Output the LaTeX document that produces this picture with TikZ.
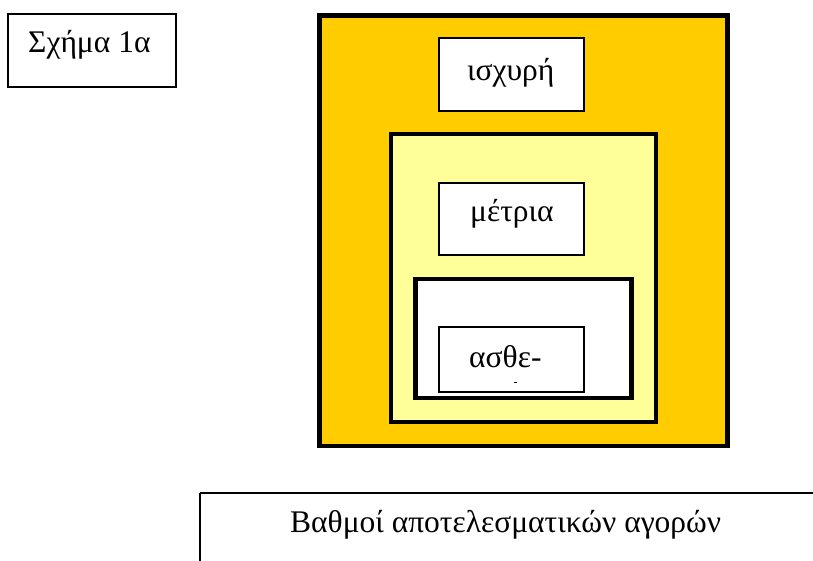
\documentclass[tikz,border=0pt]{standalone}
\usepackage{fontspec}
\setmainfont{Liberation Serif}
\definecolor{strongfill}{HTML}{FFCC00}
\definecolor{midfill}{HTML}{FFFF99}
\begin{document}
\begin{tikzpicture}[x=1pt,y=-1pt,
  label box/.style={draw=black, line width=1.5pt, fill=white},
  frame thick/.style={draw=black, line width=4.5pt},
  txt/.style={font=\fontsize{31.5}{36}\selectfont, inner sep=0pt, anchor=base west}]
\useasboundingbox (0,0) rectangle (813,561);
% caption box
\draw[label box] (8,14) rectangle (176,87);
\node[txt] (cap) at (28,53) {Σχήμα 1α};
% nested market-efficiency frames
\draw[frame thick, fill=strongfill] (319.5,15.5) rectangle (727.5,446);
\draw[label box] (439,38) rectangle (584,111);
\node[txt] (strong) at (467,81) {ισχυρή};
\draw[frame thick, fill=midfill] (391,134) rectangle (656,422);
\draw[label box] (439,183) rectangle (584,255);
\node[txt] (semi) at (470,222) {μέτρια};
\draw[frame thick, fill=white] (415.5,279) rectangle (631.5,398);
\draw[label box] (439,327) rectangle (584,392);
\node[txt] (weak) at (469,367) {ασθε-};
\draw[line width=0.6pt] (514,382) -- (517,382);
% axis label box
\draw[label box] (200,493) -- (820,493);
\draw[label box] (200,493) -- (200,570);
\node[txt] (axis) at (290,532) {Βαθμοί αποτελεσματικών αγορών};
\end{tikzpicture}
\end{document}
